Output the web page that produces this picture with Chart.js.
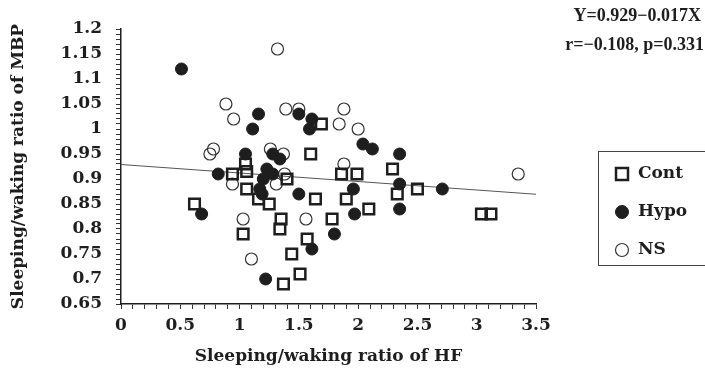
<!DOCTYPE html>
<html>
<head>
<meta charset="utf-8">
<script src="https://cdn.jsdelivr.net/npm/chart.js@4.4.1/dist/chart.umd.min.js"></script>
<style>
  html, body { margin: 0; padding: 0; background: #fff; }
  #wrap { width: 705px; height: 375px; }
</style>
</head>
<body>
<div id="wrap"><canvas id="scatter"></canvas></div>
<script>
// values
const contX = [0.62, 0.94, 1.03, 1.05, 1.06, 1.06, 1.16, 1.25, 1.35, 1.34, 1.37, 1.40, 1.44, 1.51, 1.57, 1.60, 1.64, 1.69, 1.78, 1.86, 1.90, 1.99, 2.09, 2.29, 2.33, 2.50, 3.04, 3.12];
const contY = [0.85, 0.91, 0.79, 0.93, 0.915, 0.88, 0.86, 0.85, 0.82, 0.80, 0.69, 0.90, 0.75, 0.71, 0.78, 0.95, 0.86, 1.01, 0.82, 0.91, 0.86, 0.91, 0.84, 0.92, 0.87, 0.88, 0.83, 0.83];

const hypoX = [0.51, 0.68, 0.82, 1.05, 1.11, 1.16, 1.23, 1.20, 1.17, 1.19, 1.28, 1.22, 1.28, 1.34, 1.50, 1.61, 1.59, 1.50, 1.61, 1.80, 1.96, 1.97, 2.04, 2.12, 2.35, 2.35, 2.35, 2.71];
const hypoY = [1.12, 0.83, 0.91, 0.95, 1.00, 1.03, 0.92, 0.90, 0.88, 0.87, 0.91, 0.70, 0.95, 0.94, 1.03, 1.02, 1.00, 0.87, 0.76, 0.79, 0.88, 0.83, 0.97, 0.96, 0.95, 0.89, 0.84, 0.88];

const nsX = [1.32, 0.885, 0.95, 0.78, 0.75, 1.39, 1.50, 1.88, 1.84, 2.00, 1.26, 1.37, 1.88, 3.35, 1.03, 1.10, 1.56, 0.94, 1.31, 1.38];
const nsY = [1.16, 1.05, 1.02, 0.96, 0.95, 1.04, 1.04, 1.04, 1.01, 1.00, 0.96, 0.95, 0.93, 0.91, 0.82, 0.74, 0.82, 0.89, 0.89, 0.91];

// regression Y = 0.929 - 0.017X
const intercept = 0.929;
const slope = -0.017;
const fitX = [0, 3.5];

const legendNames = ['Cont', 'Hypo', 'NS'];
const eqText = 'Y=0.929\u22120.017X';
const statText = 'r=\u22120.108, p=0.331';

const ink = '#1e1e1e';
const serif = '"DejaVu Serif", serif';
const times = '"Liberation Serif", serif';

const pts = (xs, ys) => xs.map((x, i) => ({ x: x, y: ys[i] }));

const isStep = (v, n) => Math.abs(v * n - Math.round(v * n)) < 1e-6;

// eqn text + boxed legend on the right
const notes = {
  id: 'notes',
  afterDraw(chart) {
    const ctx = chart.ctx;
    const area = chart.chartArea;
    ctx.save();
    ctx.font = 'bold 18px ' + times;
    ctx.fillStyle = ink;
    ctx.textAlign = 'right';
    ctx.textBaseline = 'middle';
    ctx.fillText(eqText, chart.width - 4, 16);
    ctx.fillText(statText, chart.width - 1, 45);

    const bx = area.right + 62, by = 151, bh = 114;
    ctx.strokeStyle = '#444';
    ctx.lineWidth = 1;
    ctx.strokeRect(bx + 0.5, by + 0.5, chart.width - bx + 10, bh);

    ctx.font = 'bold 17px ' + serif;
    legendNames.forEach((name, i) => {
      const ds = chart.data.datasets[i];
      const cx = bx + 24, cy = by + 23 + i * 38;
      ctx.lineWidth = ds.borderWidth;
      ctx.strokeStyle = ds.borderColor;
      ctx.fillStyle = ds.backgroundColor;
      ctx.beginPath();
      if (ds.pointStyle === 'rect') {
        ctx.rect(cx - 6, cy - 6, 12, 12);
      } else {
        ctx.arc(cx, cy, 6.5, 0, Math.PI * 2);
      }
      ctx.fill();
      ctx.stroke();
      ctx.fillStyle = ink;
      ctx.textAlign = 'left';
      ctx.fillText(name, bx + 40, cy);
    });
    ctx.restore();
  }
};

new Chart(document.getElementById('scatter'), {
  type: 'scatter',
  data: {
    datasets: [
      {
        label: legendNames[0],
        data: pts(contX, contY),
        pointStyle: 'rect',
        pointRadius: 7.5,
        borderWidth: 2.5,
        borderColor: ink,
        backgroundColor: 'rgba(255,255,255,0)'
      },
      {
        label: legendNames[1],
        data: pts(hypoX, hypoY),
        pointStyle: 'circle',
        pointRadius: 6,
        borderWidth: 1,
        borderColor: ink,
        backgroundColor: ink
      },
      {
        label: legendNames[2],
        data: pts(nsX, nsY),
        pointStyle: 'circle',
        pointRadius: 6,
        borderWidth: 1.2,
        borderColor: '#333',
        backgroundColor: 'rgba(255,255,255,0)'
      },
      {
        label: 'fit',
        type: 'line',
        data: fitX.map(x => ({ x: x, y: intercept + slope * x })),
        borderColor: '#555',
        borderWidth: 1,
        pointRadius: 0,
        fill: false
      }
    ]
  },
  options: {
    responsive: true,
    maintainAspectRatio: false,
    animation: false,
    devicePixelRatio: 1,
    events: [],
    layout: { padding: { top: 29, right: 169, left: 0, bottom: 0 } },
    plugins: {
      legend: { display: false },
      tooltip: { enabled: false }
    },
    scales: {
      x: {
        type: 'linear',
        min: 0,
        max: 3.5,
        afterFit: s => { s.height = 71; },
        ticks: {
          stepSize: 0.1,
          autoSkip: false,
          maxRotation: 0,
          padding: 6,
          color: ink,
          font: { family: serif, size: 17, weight: 'bold' },
          callback: v => isStep(v, 2) ? String(+v.toFixed(1)) : ''
        },
        grid: { drawOnChartArea: false, tickLength: 5, color: '#333' },
        border: { color: ink, width: 1.5 },
        title: {
          display: true,
          text: 'Sleeping/waking ratio of HF',
          color: ink,
          font: { family: serif, size: 17, weight: 'bold' },
          padding: { top: 4, bottom: 8 }
        }
      },
      y: {
        min: 0.65,
        max: 1.2,
        afterFit: s => { s.width = 121; },
        ticks: {
          stepSize: 0.01,
          autoSkip: false,
          padding: 14,
          color: ink,
          font: { family: serif, size: 17, weight: 'bold' },
          callback: v => isStep(v, 20) ? String(+v.toFixed(2)) : ''
        },
        grid: { drawOnChartArea: false, tickLength: 5, color: '#333' },
        border: { color: ink, width: 1.5 },
        title: {
          display: true,
          text: 'Sleeping/waking ratio of MBP',
          color: ink,
          font: { family: serif, size: 17, weight: 'bold' },
          padding: { top: 8, bottom: 0 }
        }
      }
    }
  },
  plugins: [notes]
});
</script>
</body>
</html>
